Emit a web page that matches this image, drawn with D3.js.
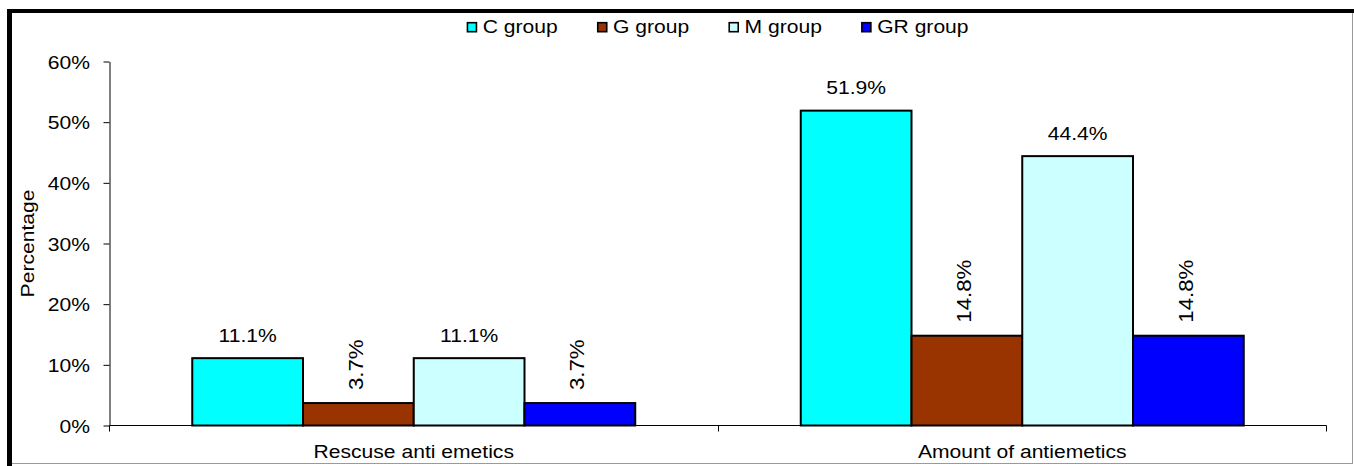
<!DOCTYPE html>
<html>
<head>
<meta charset="utf-8">
<script src="https://cdn.jsdelivr.net/npm/d3@7"></script>
<style>
  html, body { margin: 0; padding: 0; background: #fff; }
  svg { display: block; }
  text { font-family: "Liberation Sans", Arial, sans-serif; fill: #000; }
</style>
</head>
<body>
<svg id="chart" width="1354" height="466"></svg>
<script>
// Outcome categories along the x axis
const categories = ["Rescuse anti emetics", "Amount of antiemetics"];
// Study groups (one bar per group in each category)
const groups = ["C group", "G group", "M group", "GR group"];
// Percentage of patients per group, in category order
const cGroup  = [11.1, 51.9];
const gGroup  = [3.7, 14.8];
const mGroup  = [11.1, 44.4];
const grGroup = [3.7, 14.8];
// Y axis tick values (percent)
const yTicks = [0, 10, 20, 30, 40, 50, 60];

const seriesValues = [cGroup, gGroup, mGroup, grGroup];
const colors = ["#00FFFF", "#993300", "#CCFFFF", "#0000FF"];
const rotatedLabels = new Set(["G group", "GR group"]);

const FONT = 18.5;
const STRETCH = 1.14;

const svg = d3.select("#chart");

// Outer frame: heavy black on top/left, thin grey on right/bottom
svg.append("rect").attr("x", 7).attr("y", 9).attr("width", 5).attr("height", 457).attr("fill", "#000");
svg.append("rect").attr("x", 7).attr("y", 9).attr("width", 1347).attr("height", 4).attr("fill", "#000");
svg.append("line").attr("x1", 1352.5).attr("x2", 1352.5).attr("y1", 13).attr("y2", 464)
  .attr("stroke", "#9a9a9a").attr("stroke-width", 1);
svg.append("line").attr("x1", 12).attr("x2", 1353).attr("y1", 463.5).attr("y2", 463.5)
  .attr("stroke", "#9a9a9a").attr("stroke-width", 1);

// Scales
const x0 = d3.scaleBand().domain(categories).range([109.5, 1326.5])
  .paddingInner(0.272).paddingOuter(0.136);
const x1 = d3.scaleBand().domain(groups).range([0, x0.bandwidth()]).padding(0);
const y = d3.scaleLinear().domain([0, 60]).range([425.5, 61.5]);

// Y axis
const yAxis = svg.append("g")
  .attr("transform", "translate(109.5,0)")
  .call(d3.axisLeft(y).tickValues(yTicks).tickSize(6).tickSizeOuter(0)
    .tickFormat(d => d + "%"));
yAxis.select(".domain").attr("stroke", "#000");
yAxis.selectAll(".tick line").attr("stroke", "#000");
yAxis.selectAll(".tick text")
  .attr("x", null).attr("dy", null)
  .attr("font-size", FONT)
  .attr("font-family", null)
  .attr("text-anchor", "end")
  .attr("fill", "#000")
  .attr("transform", `translate(-19.5,6.6) scale(${STRETCH},1)`);
yAxis.attr("font-family", null).attr("font-size", null);

// X axis baseline with ticks at category boundaries
const gap = (x0.step() - x0.bandwidth()) / 2;
const bounds = categories.map(c => x0(c) - gap);
bounds.push(x0(categories[categories.length - 1]) + x0.bandwidth() + gap);
const xAxis = svg.append("g");
xAxis.append("line")
  .attr("x1", bounds[0]).attr("x2", bounds[bounds.length - 1])
  .attr("y1", y(0)).attr("y2", y(0))
  .attr("stroke", "#000").attr("stroke-width", 1);
xAxis.selectAll("line.tick").data(bounds).join("line")
  .attr("class", "tick")
  .attr("x1", d => Math.round(d - 0.5) + 0.5).attr("x2", d => Math.round(d - 0.5) + 0.5)
  .attr("y1", y(0)).attr("y2", y(0) + 6)
  .attr("stroke", "#000").attr("stroke-width", 1);
xAxis.selectAll("text.cat").data(categories).join("text")
  .attr("class", "cat")
  .attr("text-anchor", "middle")
  .attr("font-size", FONT)
  .attr("transform", d => `translate(${x0(d) + x0.bandwidth() / 2},457.5) scale(${STRETCH},1)`)
  .text(d => d);

// Y axis title
svg.append("text")
  .attr("text-anchor", "middle")
  .attr("font-size", FONT)
  .attr("transform", `translate(34,${(y(0) + y(60)) / 2}) rotate(-90) scale(${STRETCH},1)`)
  .text("Percentage");

// Bars
const rows = [];
categories.forEach((c, ci) => {
  groups.forEach((g, gi) => {
    rows.push({ category: c, group: g, value: seriesValues[gi][ci], color: colors[gi] });
  });
});

const barLayer = svg.append("g");
barLayer.selectAll("rect").data(rows).join("rect")
  .attr("x", d => x0(d.category) + x1(d.group))
  .attr("y", d => y(d.value))
  .attr("width", x1.bandwidth())
  .attr("height", d => y(0) - y(d.value))
  .attr("fill", d => d.color)
  .attr("stroke", "#000")
  .attr("stroke-width", 2);

// Value labels
const labelLayer = svg.append("g");
labelLayer.selectAll("text").data(rows).join("text")
  .attr("font-size", d => rotatedLabels.has(d.group) ? 19.5 : FONT)
  .attr("text-anchor", d => rotatedLabels.has(d.group) ? "start" : "middle")
  .attr("transform", d => {
    const cx = x0(d.category) + x1(d.group) + x1.bandwidth() / 2;
    const top = y(d.value);
    return rotatedLabels.has(d.group)
      ? `translate(${cx + 4.5},${top - 13}) rotate(-90) scale(${STRETCH},1)`
      : `translate(${cx},${top - 16.5}) scale(${STRETCH},1)`;
  })
  .text(d => d.value.toFixed(1) + "%");

// Legend, centred over the plot area
const legend = svg.append("g");
const items = legend.selectAll("g").data(groups).join("g");
items.append("rect")
  .attr("width", 9).attr("height", 9)
  .attr("fill", (d, i) => colors[i])
  .attr("stroke", "#000").attr("stroke-width", 1.6);
const labels = items.append("text")
  .attr("font-size", FONT)
  .attr("transform", `translate(15.3,9.8) scale(${STRETCH},1)`)
  .text(d => d);
let cursor = 0;
const widths = [];
labels.each(function () { widths.push(this.getComputedTextLength() * STRETCH); });
const offsets = widths.map(w => { const o = cursor; cursor += 15.3 + w + 40; return o; });
const total = cursor - 40;
const legendStart = (bounds[0] + bounds[bounds.length - 1]) / 2 - total / 2;
items.attr("transform", (d, i) => `translate(${legendStart + offsets[i]},22.7)`);
</script>
</body>
</html>
